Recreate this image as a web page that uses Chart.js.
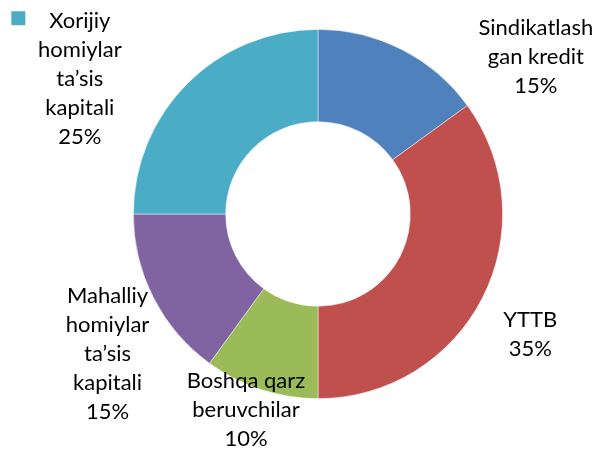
<!DOCTYPE html>
<html>
<head>
<meta charset="utf-8">
<script src="https://cdn.jsdelivr.net/npm/chart.js@4"></script>
<style>
  html, body { margin: 0; padding: 0; background: #fff; }
  #wrap { width: 594px; height: 450px; }
</style>
</head>
<body>
<div id="wrap"><canvas id="donut" width="594" height="450"></canvas></div>
<script>
let categories = [
  "Sindikatlash gan kredit",
  "YTTB",
  "Boshqa qarz beruvchilar",
  "Mahalliy homiylar ta’sis kapitali",
  "Xorijiy homiylar ta’sis kapitali",
];
let shares = [15, 35, 10, 15, 25];
// how each label is broken into lines (as in the picture)
let labelLines = [
  ["Sindikatlash", "gan kredit"],
  ["YTTB"],
  ["Boshqa qarz", "beruvchilar"],
  ["Mahalliy", "homiylar", "ta’sis", "kapitali"],
  ["Xorijiy", "homiylar", "ta’sis", "kapitali"],
];
let colors = ["#4F81BD", "#C0504D", "#9BBB59", "#8064A2", "#4BACC6"];

// label block centres, in units of the outer radius from the centre
let labelOffsets = [
  [1.18, -0.85],
  [1.15, 0.65],
  [-0.39, 1.06],
  [-1.14, 0.76],
  [-1.29, -0.73],
];

const FONT = "22px Lato";
const LINE_H = 29;

const labelPlugin = {
  id: "outLabels",
  afterDatasetsDraw(chart) {
    const c = chart.ctx;
    const meta = chart.getDatasetMeta(0);
    c.save();
    c.font = FONT;
    c.fillStyle = "#000";
    c.textAlign = "center";
    c.textBaseline = "middle";
    meta.data.forEach((arc, i) => {
      const R = arc.outerRadius;
      const cx = arc.x + labelOffsets[i][0] * R;
      const cy = arc.y + labelOffsets[i][1] * R;
      const lines = labelLines[i].concat([shares[i] + "%"]);
      const top = cy - (lines.length - 1) * LINE_H / 2;
      lines.forEach((t, k) => c.fillText(t, cx, top + k * LINE_H));
      if (i === 4) {
        // legend-like key next to the first line
        const w = c.measureText(lines[0]).width;
        c.fillStyle = colors[i];
        c.fillRect(cx - w / 2 - 38, top - 10, 14, 14);
        c.fillStyle = "#000";
      }
    });
    c.restore();
  },
};

new Chart(document.getElementById("donut").getContext("2d"), {
  type: "doughnut",
  data: {
    labels: categories,
    datasets: [
      {
        data: shares,
        backgroundColor: colors,
        borderColor: "rgba(255,255,255,0.6)",
        borderWidth: 0.8,
      },
    ],
  },
  options: {
    responsive: false,
    animation: false,
    cutout: "50%",
    layout: { padding: { left: 133, top: 29, right: 91, bottom: 51 } },
    plugins: {
      legend: { display: false },
      tooltip: { enabled: false },
    },
  },
  plugins: [labelPlugin],
});
</script>
</body>
</html>
